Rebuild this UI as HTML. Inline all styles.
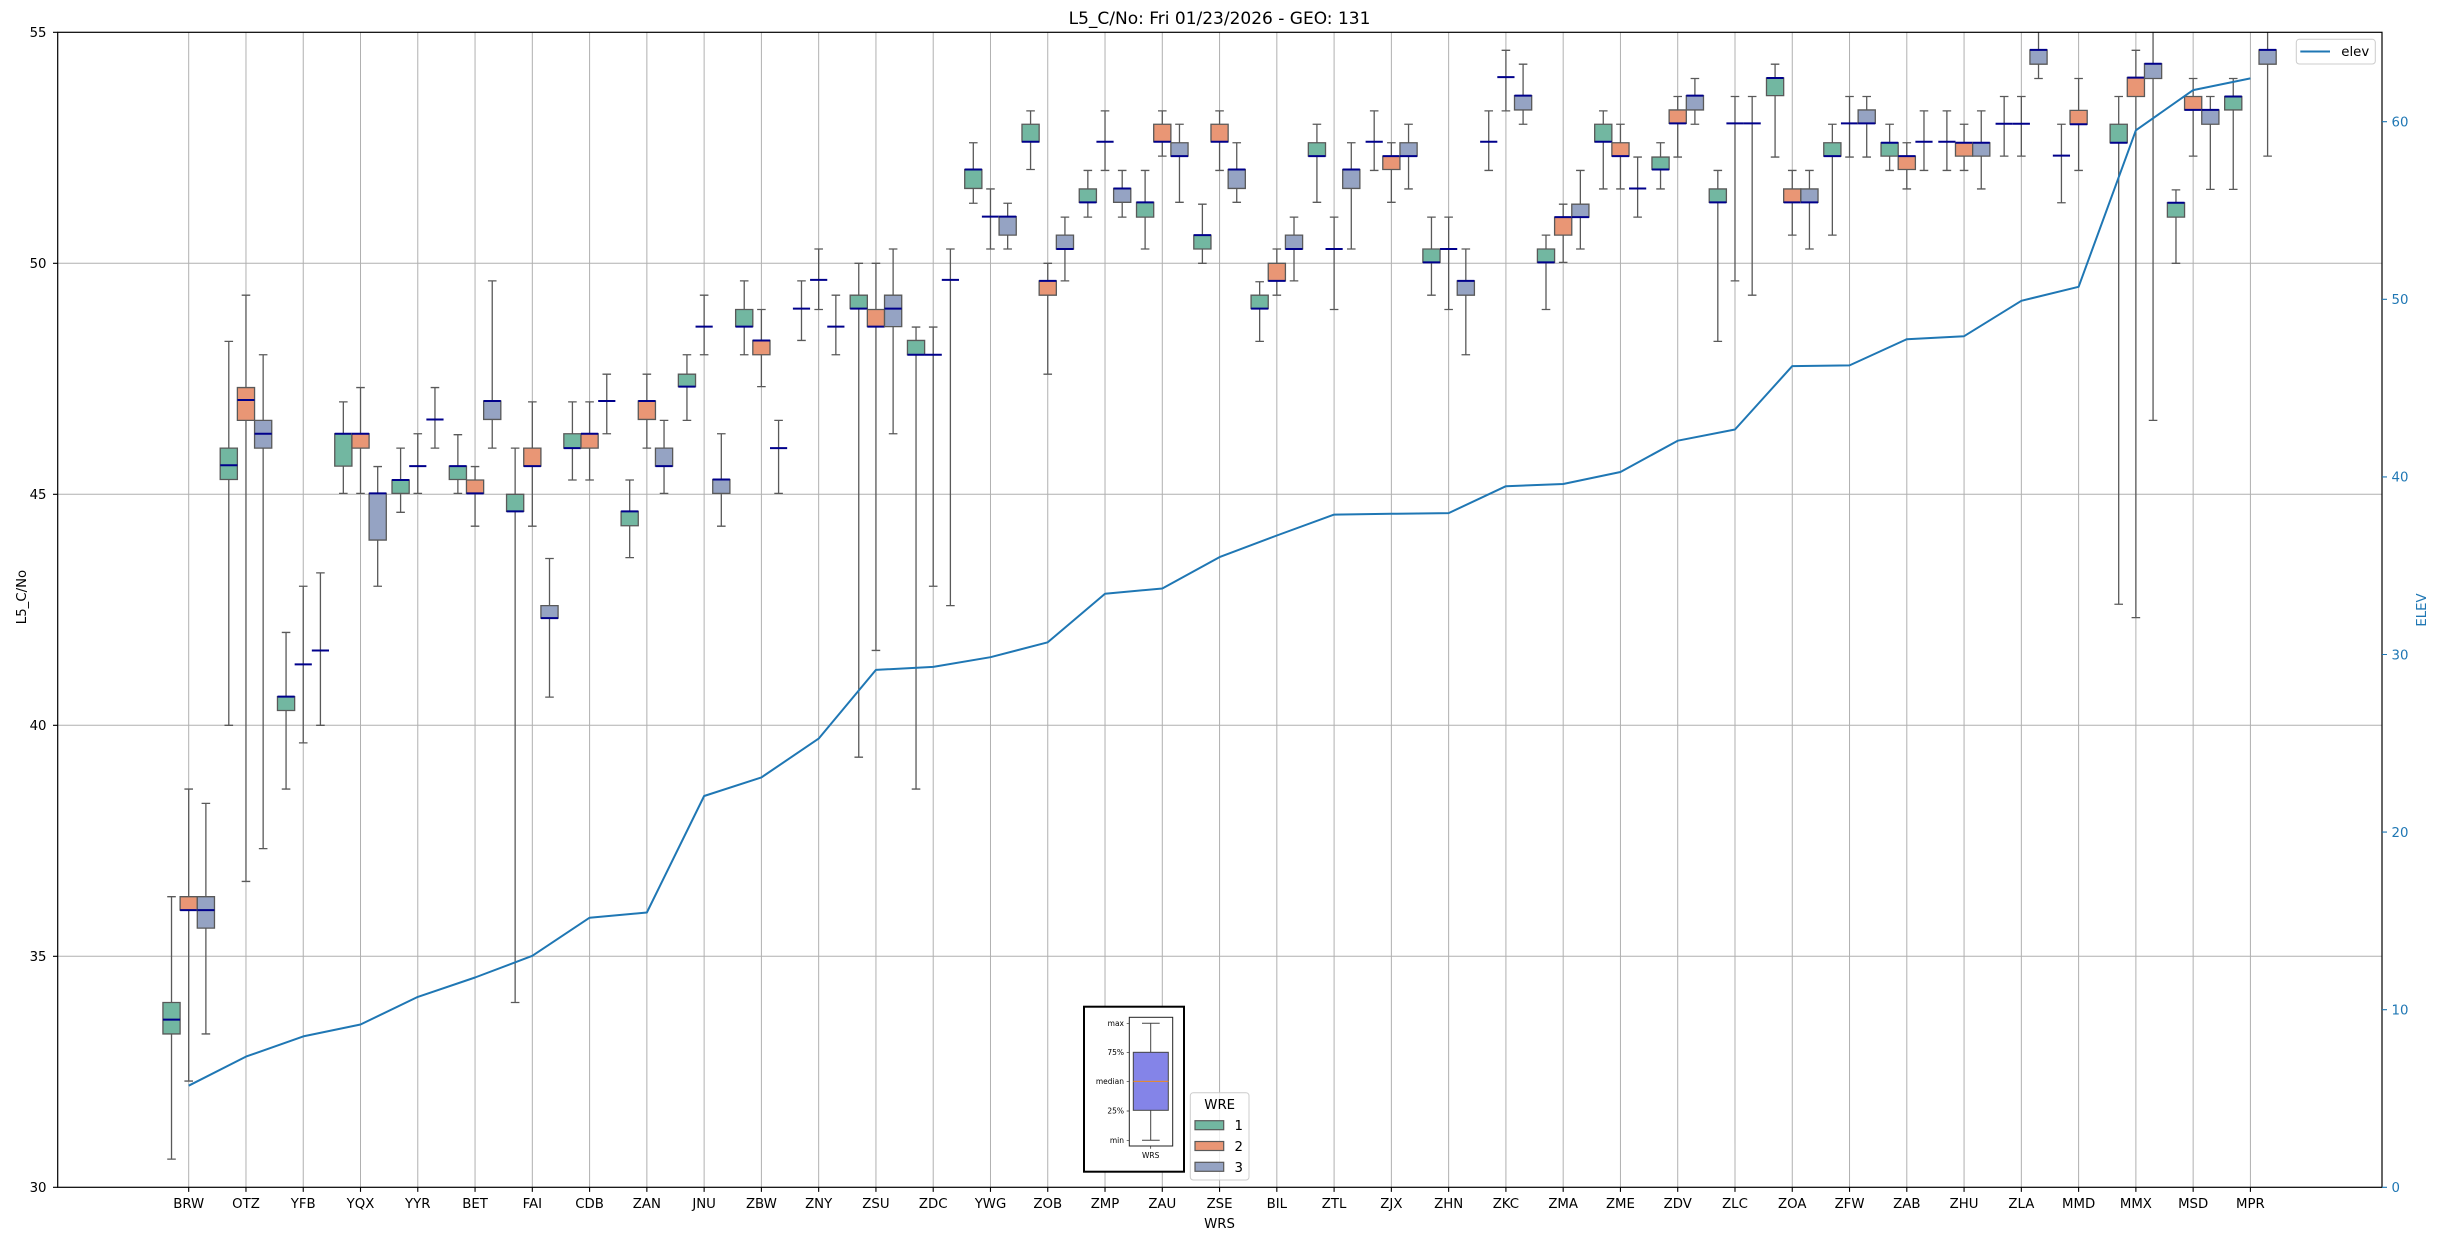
<!DOCTYPE html>
<html><head><meta charset="utf-8"><style>
html,body{margin:0;padding:0;background:#fff}
svg text{font-family:"DejaVu Sans","Liberation Sans",sans-serif}
.d *{vector-effect:non-scaling-stroke}
.w{stroke:#595959;stroke-width:1.3;fill:none}
.g{fill:#72b7a1;stroke:#595959;stroke-width:1.3}
.o{fill:#e99675;stroke:#595959;stroke-width:1.3}
.b{fill:#95a3c3;stroke:#595959;stroke-width:1.3}
.m{stroke:#00008b;stroke-width:2;fill:none}
</style></head><body>
<svg width="2438" height="1240" viewBox="0 0 2438 1240" xmlns="http://www.w3.org/2000/svg">
<defs><clipPath id="ax" clipPathUnits="userSpaceOnUse"><rect x="57.7" y="32.3" width="2324.3" height="1155"/></clipPath></defs>
<rect x="0" y="0" width="2438" height="1240" fill="#fff"/>
<text x="1219.5" y="24" font-size="17" text-anchor="middle" fill="#000">L5_C/No: Fri 01/23/2026 - GEO: 131</text>

<g clip-path="url(#ax)">
<g class="d" transform="matrix(57.27 0 0 -46.2 188.7 2573.3)">
<path d="M0 30V55M1 30V55M2 30V55M3 30V55M4 30V55M5 30V55M6 30V55M7 30V55M8 30V55M9 30V55M10 30V55M11 30V55M12 30V55M13 30V55M14 30V55M15 30V55M16 30V55M17 30V55M18 30V55M19 30V55M20 30V55M21 30V55M22 30V55M23 30V55M24 30V55M25 30V55M26 30V55M27 30V55M28 30V55M29 30V55M30 30V55M31 30V55M32 30V55M33 30V55M34 30V55M35 30V55M36 30V55" stroke="#b0b0b0" stroke-width="1" fill="none"/>
<path d="M-2.3 35H38.3M-2.3 40H38.3M-2.3 45H38.3M-2.3 50H38.3" stroke="#b0b0b0" stroke-width="1" fill="none"/>

<!-- 0 BRW -->
<g transform="translate(-.3 0)"><path class="w" d="M0 30.61V36.29M-.075 30.61H.075M-.075 36.29H.075"/><rect class="g" x="-.15" y="33.32" width=".3" height=".68"/><path class="m" d="M-.15 33.63H.15"/></g>
<g transform="translate(0 0)"><path class="w" d="M0 32.3V38.62M-.075 32.3H.075M-.075 38.62H.075"/><rect class="o" x="-.15" y="36" width=".3" height=".29"/><path class="m" d="M-.15 36H.15"/></g>
<g transform="translate(.3 0)"><path class="w" d="M0 33.32V38.31M-.075 33.32H.075M-.075 38.31H.075"/><rect class="b" x="-.15" y="35.61" width=".3" height=".68"/><path class="m" d="M-.15 36H.15"/></g>
<!-- 1 OTZ -->
<g transform="translate(.7 0)"><path class="w" d="M0 40V48.31M-.075 40H.075M-.075 48.31H.075"/><rect class="g" x="-.15" y="45.32" width=".3" height=".68"/><path class="m" d="M-.15 45.63H.15"/></g>
<g transform="translate(1 0)"><path class="w" d="M0 36.62V49.31M-.075 36.62H.075M-.075 49.31H.075"/><rect class="o" x="-.15" y="46.6" width=".3" height=".71"/><path class="m" d="M-.15 47.04H.15"/></g>
<g transform="translate(1.3 0)"><path class="w" d="M0 37.33V48.02M-.075 37.33H.075M-.075 48.02H.075"/><rect class="b" x="-.15" y="46" width=".3" height=".6"/><path class="m" d="M-.15 46.31H.15"/></g>
<!-- 2 YFB -->
<g transform="translate(1.7 0)"><path class="w" d="M0 38.62V42.01M-.075 38.62H.075M-.075 42.01H.075"/><rect class="g" x="-.15" y="40.32" width=".3" height=".3"/><path class="m" d="M-.15 40.62H.15"/></g>
<g transform="translate(2 0)"><path class="w" d="M0 39.62V43.01M-.075 39.62H.075M-.075 43.01H.075"/><path class="m" d="M-.15 41.32H.15"/></g>
<g transform="translate(2.3 0)"><path class="w" d="M0 40V43.3M-.075 40H.075M-.075 43.3H.075"/><path class="m" d="M-.15 41.62H.15"/></g>
<!-- 3 YQX -->
<g transform="translate(2.7 0)"><path class="w" d="M0 45.02V47M-.075 45.02H.075M-.075 47H.075"/><rect class="g" x="-.15" y="45.61" width=".3" height=".7"/><path class="m" d="M-.15 46.31H.15"/></g>
<g transform="translate(3 0)"><path class="w" d="M0 45.02V47.31M-.075 45.02H.075M-.075 47.31H.075"/><rect class="o" x="-.15" y="46" width=".3" height=".31"/><path class="m" d="M-.15 46.31H.15"/></g>
<g transform="translate(3.3 0)"><path class="w" d="M0 43.01V45.6M-.075 43.01H.075M-.075 45.6H.075"/><rect class="b" x="-.15" y="44.01" width=".3" height="1.01"/><path class="m" d="M-.15 45.02H.15"/></g>
<!-- 4 YYR -->
<g transform="translate(3.7 0)"><path class="w" d="M0 44.61V46M-.075 44.61H.075M-.075 46H.075"/><rect class="g" x="-.15" y="45.02" width=".3" height=".29"/><path class="m" d="M-.15 45.31H.15"/></g>
<g transform="translate(4 0)"><path class="w" d="M0 45.02V46.31M-.075 45.02H.075M-.075 46.31H.075"/><path class="m" d="M-.15 45.61H.15"/></g>
<g transform="translate(4.3 0)"><path class="w" d="M0 46V47.31M-.075 46H.075M-.075 47.31H.075"/><path class="m" d="M-.15 46.62H.15"/></g>
<!-- 5 BET -->
<g transform="translate(4.7 0)"><path class="w" d="M0 45.02V46.29M-.075 45.02H.075M-.075 46.29H.075"/><rect class="g" x="-.15" y="45.32" width=".3" height=".29"/><path class="m" d="M-.15 45.61H.15"/></g>
<g transform="translate(5 0)"><path class="w" d="M0 44.31V45.6M-.075 44.31H.075M-.075 45.6H.075"/><rect class="o" x="-.15" y="45.02" width=".3" height=".29"/><path class="m" d="M-.15 45.02H.15"/></g>
<g transform="translate(5.3 0)"><path class="w" d="M0 46V49.62M-.075 46H.075M-.075 49.62H.075"/><rect class="b" x="-.15" y="46.62" width=".3" height=".4"/><path class="m" d="M-.15 47.02H.15"/></g>
<!-- 6 FAI -->
<g transform="translate(5.7 0)"><path class="w" d="M0 34V46M-.075 34H.075M-.075 46H.075"/><rect class="g" x="-.15" y="44.63" width=".3" height=".37"/><path class="m" d="M-.15 44.63H.15"/></g>
<g transform="translate(6 0)"><path class="w" d="M0 44.31V47M-.075 44.31H.075M-.075 47H.075"/><rect class="o" x="-.15" y="45.61" width=".3" height=".39"/><path class="m" d="M-.15 45.61H.15"/></g>
<g transform="translate(6.3 0)"><path class="w" d="M0 40.61V43.61M-.075 40.61H.075M-.075 43.61H.075"/><rect class="b" x="-.15" y="42.32" width=".3" height=".27"/><path class="m" d="M-.15 42.32H.15"/></g>
<!-- 7 CDB -->
<g transform="translate(6.7 0)"><path class="w" d="M0 45.31V47M-.075 45.31H.075M-.075 47H.075"/><rect class="g" x="-.15" y="46" width=".3" height=".31"/><path class="m" d="M-.15 46H.15"/></g>
<g transform="translate(7 0)"><path class="w" d="M0 45.31V47M-.075 45.31H.075M-.075 47H.075"/><rect class="o" x="-.15" y="46" width=".3" height=".31"/><path class="m" d="M-.15 46.31H.15"/></g>
<g transform="translate(7.3 0)"><path class="w" d="M0 46.31V47.6M-.075 46.31H.075M-.075 47.6H.075"/><path class="m" d="M-.15 47.02H.15"/></g>
<!-- 8 ZAN -->
<g transform="translate(7.7 0)"><path class="w" d="M0 43.63V45.31M-.075 43.63H.075M-.075 45.31H.075"/><rect class="g" x="-.15" y="44.32" width=".3" height=".31"/><path class="m" d="M-.15 44.63H.15"/></g>
<g transform="translate(8 0)"><path class="w" d="M0 46V47.6M-.075 46H.075M-.075 47.6H.075"/><rect class="o" x="-.15" y="46.62" width=".3" height=".4"/><path class="m" d="M-.15 47.02H.15"/></g>
<g transform="translate(8.3 0)"><path class="w" d="M0 45.02V46.6M-.075 45.02H.075M-.075 46.6H.075"/><rect class="b" x="-.15" y="45.61" width=".3" height=".39"/><path class="m" d="M-.15 45.61H.15"/></g>
<!-- 9 JNU -->
<g transform="translate(8.7 0)"><path class="w" d="M0 46.6V48.02M-.075 46.6H.075M-.075 48.02H.075"/><rect class="g" x="-.15" y="47.33" width=".3" height=".27"/><path class="m" d="M-.15 47.33H.15"/></g>
<g transform="translate(9 0)"><path class="w" d="M0 48.02V49.31M-.075 48.02H.075M-.075 49.31H.075"/><path class="m" d="M-.15 48.63H.15"/></g>
<g transform="translate(9.3 0)"><path class="w" d="M0 44.31V46.31M-.075 44.31H.075M-.075 46.31H.075"/><rect class="b" x="-.15" y="45.02" width=".3" height=".3"/><path class="m" d="M-.15 45.32H.15"/></g>
<!-- 10 ZBW -->
<g transform="translate(9.7 0)"><path class="w" d="M0 48.02V49.62M-.075 48.02H.075M-.075 49.62H.075"/><rect class="g" x="-.15" y="48.63" width=".3" height=".37"/><path class="m" d="M-.15 48.63H.15"/></g>
<g transform="translate(10 0)"><path class="w" d="M0 47.33V49M-.075 47.33H.075M-.075 49H.075"/><rect class="o" x="-.15" y="48.02" width=".3" height=".31"/><path class="m" d="M-.15 48.33H.15"/></g>
<g transform="translate(10.3 0)"><path class="w" d="M0 45.02V46.6M-.075 45.02H.075M-.075 46.6H.075"/><path class="m" d="M-.15 46H.15"/></g>
<!-- 11 ZNY -->
<g transform="translate(10.7 0)"><path class="w" d="M0 48.33V49.62M-.075 48.33H.075M-.075 49.62H.075"/><path class="m" d="M-.15 49.02H.15"/></g>
<g transform="translate(11 0)"><path class="w" d="M0 49V50.31M-.075 49H.075M-.075 50.31H.075"/><path class="m" d="M-.15 49.64H.15"/></g>
<g transform="translate(11.3 0)"><path class="w" d="M0 48.02V49.31M-.075 48.02H.075M-.075 49.31H.075"/><path class="m" d="M-.15 48.63H.15"/></g>
<!-- 12 ZSU -->
<g transform="translate(11.7 0)"><path class="w" d="M0 39.31V50M-.075 39.31H.075M-.075 50H.075"/><rect class="g" x="-.15" y="49.02" width=".3" height=".29"/><path class="m" d="M-.15 49.02H.15"/></g>
<g transform="translate(12 0)"><path class="w" d="M0 41.62V50M-.075 41.62H.075M-.075 50H.075"/><rect class="o" x="-.15" y="48.63" width=".3" height=".37"/><path class="m" d="M-.15 48.63H.15"/></g>
<g transform="translate(12.3 0)"><path class="w" d="M0 46.31V50.31M-.075 46.31H.075M-.075 50.31H.075"/><rect class="b" x="-.15" y="48.63" width=".3" height=".68"/><path class="m" d="M-.15 49.02H.15"/></g>
<!-- 13 ZDC -->
<g transform="translate(12.7 0)"><path class="w" d="M0 38.62V48.62M-.075 38.62H.075M-.075 48.62H.075"/><rect class="g" x="-.15" y="48.02" width=".3" height=".31"/><path class="m" d="M-.15 48.02H.15"/></g>
<g transform="translate(13 0)"><path class="w" d="M0 43.01V48.62M-.075 43.01H.075M-.075 48.62H.075"/><path class="m" d="M-.15 48.02H.15"/></g>
<g transform="translate(13.3 0)"><path class="w" d="M0 42.59V50.31M-.075 42.59H.075M-.075 50.31H.075"/><path class="m" d="M-.15 49.64H.15"/></g>
<!-- 14 YWG -->
<g transform="translate(13.7 0)"><path class="w" d="M0 51.3V52.61M-.075 51.3H.075M-.075 52.61H.075"/><rect class="g" x="-.15" y="51.62" width=".3" height=".41"/><path class="m" d="M-.15 52.03H.15"/></g>
<g transform="translate(14 0)"><path class="w" d="M0 50.31V51.61M-.075 50.31H.075M-.075 51.61H.075"/><path class="m" d="M-.15 51.01H.15"/></g>
<g transform="translate(14.3 0)"><path class="w" d="M0 50.31V51.3M-.075 50.31H.075M-.075 51.3H.075"/><rect class="b" x="-.15" y="50.61" width=".3" height=".4"/><path class="m" d="M-.15 51.01H.15"/></g>
<!-- 15 ZOB -->
<g transform="translate(14.7 0)"><path class="w" d="M0 52.03V53.3M-.075 52.03H.075M-.075 53.3H.075"/><rect class="g" x="-.15" y="52.63" width=".3" height=".38"/><path class="m" d="M-.15 52.63H.15"/></g>
<g transform="translate(15 0)"><path class="w" d="M0 47.6V50M-.075 47.6H.075M-.075 50H.075"/><rect class="o" x="-.15" y="49.31" width=".3" height=".31"/><path class="m" d="M-.15 49.62H.15"/></g>
<g transform="translate(15.3 0)"><path class="w" d="M0 49.62V51M-.075 49.62H.075M-.075 51H.075"/><rect class="b" x="-.15" y="50.31" width=".3" height=".3"/><path class="m" d="M-.15 50.31H.15"/></g>
<!-- 16 ZMP -->
<g transform="translate(15.7 0)"><path class="w" d="M0 51V52.01M-.075 51H.075M-.075 52.01H.075"/><rect class="g" x="-.15" y="51.32" width=".3" height=".29"/><path class="m" d="M-.15 51.32H.15"/></g>
<g transform="translate(16 0)"><path class="w" d="M0 52.01V53.3M-.075 52.01H.075M-.075 53.3H.075"/><path class="m" d="M-.15 52.63H.15"/></g>
<g transform="translate(16.3 0)"><path class="w" d="M0 51V52.01M-.075 51H.075M-.075 52.01H.075"/><rect class="b" x="-.15" y="51.32" width=".3" height=".3"/><path class="m" d="M-.15 51.62H.15"/></g>
<!-- 17 ZAU -->
<g transform="translate(16.7 0)"><path class="w" d="M0 50.31V52.01M-.075 50.31H.075M-.075 52.01H.075"/><rect class="g" x="-.15" y="51" width=".3" height=".32"/><path class="m" d="M-.15 51.32H.15"/></g>
<g transform="translate(17 0)"><path class="w" d="M0 52.32V53.3M-.075 52.32H.075M-.075 53.3H.075"/><rect class="o" x="-.15" y="52.63" width=".3" height=".38"/><path class="m" d="M-.15 52.63H.15"/></g>
<g transform="translate(17.3 0)"><path class="w" d="M0 51.32V53.01M-.075 51.32H.075M-.075 53.01H.075"/><rect class="b" x="-.15" y="52.32" width=".3" height=".29"/><path class="m" d="M-.15 52.32H.15"/></g>
<!-- 18 ZSE -->
<g transform="translate(17.7 0)"><path class="w" d="M0 50V51.28M-.075 50H.075M-.075 51.28H.075"/><rect class="g" x="-.15" y="50.31" width=".3" height=".3"/><path class="m" d="M-.15 50.61H.15"/></g>
<g transform="translate(18 0)"><path class="w" d="M0 52.01V53.3M-.075 52.01H.075M-.075 53.3H.075"/><rect class="o" x="-.15" y="52.63" width=".3" height=".38"/><path class="m" d="M-.15 52.63H.15"/></g>
<g transform="translate(18.3 0)"><path class="w" d="M0 51.32V52.61M-.075 51.32H.075M-.075 52.61H.075"/><rect class="b" x="-.15" y="51.62" width=".3" height=".41"/><path class="m" d="M-.15 52.03H.15"/></g>
<!-- 19 BIL -->
<g transform="translate(18.7 0)"><path class="w" d="M0 48.31V49.6M-.075 48.31H.075M-.075 49.6H.075"/><rect class="g" x="-.15" y="49.02" width=".3" height=".29"/><path class="m" d="M-.15 49.02H.15"/></g>
<g transform="translate(19 0)"><path class="w" d="M0 49.31V50.31M-.075 49.31H.075M-.075 50.31H.075"/><rect class="o" x="-.15" y="49.62" width=".3" height=".38"/><path class="m" d="M-.15 49.62H.15"/></g>
<g transform="translate(19.3 0)"><path class="w" d="M0 49.62V51M-.075 49.62H.075M-.075 51H.075"/><rect class="b" x="-.15" y="50.31" width=".3" height=".3"/><path class="m" d="M-.15 50.31H.15"/></g>
<!-- 20 ZTL -->
<g transform="translate(19.7 0)"><path class="w" d="M0 51.32V53.01M-.075 51.32H.075M-.075 53.01H.075"/><rect class="g" x="-.15" y="52.32" width=".3" height=".29"/><path class="m" d="M-.15 52.32H.15"/></g>
<g transform="translate(20 0)"><path class="w" d="M0 49V51M-.075 49H.075M-.075 51H.075"/><path class="m" d="M-.15 50.31H.15"/></g>
<g transform="translate(20.3 0)"><path class="w" d="M0 50.31V52.61M-.075 50.31H.075M-.075 52.61H.075"/><rect class="b" x="-.15" y="51.62" width=".3" height=".41"/><path class="m" d="M-.15 52.03H.15"/></g>
<!-- 21 ZJX -->
<g transform="translate(20.7 0)"><path class="w" d="M0 52.01V53.3M-.075 52.01H.075M-.075 53.3H.075"/><path class="m" d="M-.15 52.63H.15"/></g>
<g transform="translate(21 0)"><path class="w" d="M0 51.32V52.61M-.075 51.32H.075M-.075 52.61H.075"/><rect class="o" x="-.15" y="52.03" width=".3" height=".29"/><path class="m" d="M-.15 52.32H.15"/></g>
<g transform="translate(21.3 0)"><path class="w" d="M0 51.61V53.01M-.075 51.61H.075M-.075 53.01H.075"/><rect class="b" x="-.15" y="52.32" width=".3" height=".29"/><path class="m" d="M-.15 52.32H.15"/></g>
<!-- 22 ZHN -->
<g transform="translate(21.7 0)"><path class="w" d="M0 49.31V51M-.075 49.31H.075M-.075 51H.075"/><rect class="g" x="-.15" y="50.02" width=".3" height=".29"/><path class="m" d="M-.15 50.02H.15"/></g>
<g transform="translate(22 0)"><path class="w" d="M0 49V51M-.075 49H.075M-.075 51H.075"/><path class="m" d="M-.15 50.31H.15"/></g>
<g transform="translate(22.3 0)"><path class="w" d="M0 48.02V50.31M-.075 48.02H.075M-.075 50.31H.075"/><rect class="b" x="-.15" y="49.31" width=".3" height=".31"/><path class="m" d="M-.15 49.62H.15"/></g>
<!-- 23 ZKC -->
<g transform="translate(22.7 0)"><path class="w" d="M0 52.01V53.3M-.075 52.01H.075M-.075 53.3H.075"/><path class="m" d="M-.15 52.63H.15"/></g>
<g transform="translate(23 0)"><path class="w" d="M0 53.3V54.61M-.075 53.3H.075M-.075 54.61H.075"/><path class="m" d="M-.15 54.03H.15"/></g>
<g transform="translate(23.3 0)"><path class="w" d="M0 53.01V54.31M-.075 53.01H.075M-.075 54.31H.075"/><rect class="b" x="-.15" y="53.32" width=".3" height=".31"/><path class="m" d="M-.15 53.63H.15"/></g>
<!-- 24 ZMA -->
<g transform="translate(23.7 0)"><path class="w" d="M0 49V50.61M-.075 49H.075M-.075 50.61H.075"/><rect class="g" x="-.15" y="50.02" width=".3" height=".29"/><path class="m" d="M-.15 50.02H.15"/></g>
<g transform="translate(24 0)"><path class="w" d="M0 50.02V51.28M-.075 50.02H.075M-.075 51.28H.075"/><rect class="o" x="-.15" y="50.61" width=".3" height=".39"/><path class="m" d="M-.15 51H.15"/></g>
<g transform="translate(24.3 0)"><path class="w" d="M0 50.31V52.01M-.075 50.31H.075M-.075 52.01H.075"/><rect class="b" x="-.15" y="51" width=".3" height=".28"/><path class="m" d="M-.15 51H.15"/></g>
<!-- 25 ZME -->
<g transform="translate(24.7 0)"><path class="w" d="M0 51.61V53.3M-.075 51.61H.075M-.075 53.3H.075"/><rect class="g" x="-.15" y="52.63" width=".3" height=".38"/><path class="m" d="M-.15 52.63H.15"/></g>
<g transform="translate(25 0)"><path class="w" d="M0 51.61V53.01M-.075 51.61H.075M-.075 53.01H.075"/><rect class="o" x="-.15" y="52.32" width=".3" height=".29"/><path class="m" d="M-.15 52.32H.15"/></g>
<g transform="translate(25.3 0)"><path class="w" d="M0 51V52.3M-.075 51H.075M-.075 52.3H.075"/><path class="m" d="M-.15 51.62H.15"/></g>
<!-- 26 ZDV -->
<g transform="translate(25.7 0)"><path class="w" d="M0 51.61V52.61M-.075 51.61H.075M-.075 52.61H.075"/><rect class="g" x="-.15" y="52.03" width=".3" height=".27"/><path class="m" d="M-.15 52.03H.15"/></g>
<g transform="translate(26 0)"><path class="w" d="M0 52.3V53.61M-.075 52.3H.075M-.075 53.61H.075"/><rect class="o" x="-.15" y="53.03" width=".3" height=".29"/><path class="m" d="M-.15 53.03H.15"/></g>
<g transform="translate(26.3 0)"><path class="w" d="M0 53.01V54M-.075 53.01H.075M-.075 54H.075"/><rect class="b" x="-.15" y="53.32" width=".3" height=".31"/><path class="m" d="M-.15 53.63H.15"/></g>
<!-- 27 ZLC -->
<g transform="translate(26.7 0)"><path class="w" d="M0 48.31V52.01M-.075 48.31H.075M-.075 52.01H.075"/><rect class="g" x="-.15" y="51.32" width=".3" height=".29"/><path class="m" d="M-.15 51.32H.15"/></g>
<g transform="translate(27 0)"><path class="w" d="M0 49.62V53.61M-.075 49.62H.075M-.075 53.61H.075"/><path class="m" d="M-.15 53.03H.15"/></g>
<g transform="translate(27.3 0)"><path class="w" d="M0 49.31V53.61M-.075 49.31H.075M-.075 53.61H.075"/><path class="m" d="M-.15 53.03H.15"/></g>
<!-- 28 ZOA -->
<g transform="translate(27.7 0)"><path class="w" d="M0 52.3V54.31M-.075 52.3H.075M-.075 54.31H.075"/><rect class="g" x="-.15" y="53.63" width=".3" height=".38"/><path class="m" d="M-.15 54.01H.15"/></g>
<g transform="translate(28 0)"><path class="w" d="M0 50.61V52.01M-.075 50.61H.075M-.075 52.01H.075"/><rect class="o" x="-.15" y="51.32" width=".3" height=".29"/><path class="m" d="M-.15 51.32H.15"/></g>
<g transform="translate(28.3 0)"><path class="w" d="M0 50.31V52.01M-.075 50.31H.075M-.075 52.01H.075"/><rect class="b" x="-.15" y="51.32" width=".3" height=".29"/><path class="m" d="M-.15 51.32H.15"/></g>
<!-- 29 ZFW -->
<g transform="translate(28.7 0)"><path class="w" d="M0 50.61V53.01M-.075 50.61H.075M-.075 53.01H.075"/><rect class="g" x="-.15" y="52.32" width=".3" height=".29"/><path class="m" d="M-.15 52.32H.15"/></g>
<g transform="translate(29 0)"><path class="w" d="M0 52.3V53.61M-.075 52.3H.075M-.075 53.61H.075"/><path class="m" d="M-.15 53.03H.15"/></g>
<g transform="translate(29.3 0)"><path class="w" d="M0 52.3V53.61M-.075 52.3H.075M-.075 53.61H.075"/><rect class="b" x="-.15" y="53.03" width=".3" height=".29"/><path class="m" d="M-.15 53.03H.15"/></g>
<!-- 30 ZAB -->
<g transform="translate(29.7 0)"><path class="w" d="M0 52.01V53.01M-.075 52.01H.075M-.075 53.01H.075"/><rect class="g" x="-.15" y="52.32" width=".3" height=".29"/><path class="m" d="M-.15 52.61H.15"/></g>
<g transform="translate(30 0)"><path class="w" d="M0 51.61V52.61M-.075 51.61H.075M-.075 52.61H.075"/><rect class="o" x="-.15" y="52.03" width=".3" height=".29"/><path class="m" d="M-.15 52.32H.15"/></g>
<g transform="translate(30.3 0)"><path class="w" d="M0 52.01V53.3M-.075 52.01H.075M-.075 53.3H.075"/><path class="m" d="M-.15 52.63H.15"/></g>
<!-- 31 ZHU -->
<g transform="translate(30.7 0)"><path class="w" d="M0 52.01V53.3M-.075 52.01H.075M-.075 53.3H.075"/><path class="m" d="M-.15 52.63H.15"/></g>
<g transform="translate(31 0)"><path class="w" d="M0 52.01V53.01M-.075 52.01H.075M-.075 53.01H.075"/><rect class="o" x="-.15" y="52.32" width=".3" height=".29"/><path class="m" d="M-.15 52.61H.15"/></g>
<g transform="translate(31.3 0)"><path class="w" d="M0 51.61V53.3M-.075 51.61H.075M-.075 53.3H.075"/><rect class="b" x="-.15" y="52.32" width=".3" height=".29"/><path class="m" d="M-.15 52.61H.15"/></g>
<!-- 32 ZLA -->
<g transform="translate(31.7 0)"><path class="w" d="M0 52.32V53.61M-.075 52.32H.075M-.075 53.61H.075"/><path class="m" d="M-.15 53.02H.15"/></g>
<g transform="translate(32 0)"><path class="w" d="M0 52.32V53.61M-.075 52.32H.075M-.075 53.61H.075"/><path class="m" d="M-.15 53.02H.15"/></g>
<g transform="translate(32.3 0)"><path class="w" d="M0 54V55.5M-.075 54H.075M-.075 55.5H.075"/><rect class="b" x="-.15" y="54.31" width=".3" height=".31"/><path class="m" d="M-.15 54.62H.15"/></g>
<!-- 33 MMD -->
<g transform="translate(32.7 0)"><path class="w" d="M0 51.31V53.01M-.075 51.31H.075M-.075 53.01H.075"/><path class="m" d="M-.15 52.33H.15"/></g>
<g transform="translate(33 0)"><path class="w" d="M0 52.01V54M-.075 52.01H.075M-.075 54H.075"/><rect class="o" x="-.15" y="53.01" width=".3" height=".3"/><path class="m" d="M-.15 53.01H.15"/></g>
<!-- 34 MMX -->
<g transform="translate(33.7 0)"><path class="w" d="M0 42.62V53.61M-.075 42.62H.075M-.075 53.61H.075"/><rect class="g" x="-.15" y="52.61" width=".3" height=".4"/><path class="m" d="M-.15 52.61H.15"/></g>
<g transform="translate(34 0)"><path class="w" d="M0 42.33V54.61M-.075 42.33H.075M-.075 54.61H.075"/><rect class="o" x="-.15" y="53.61" width=".3" height=".41"/><path class="m" d="M-.15 54.02H.15"/></g>
<g transform="translate(34.3 0)"><path class="w" d="M0 46.6V55.5M-.075 46.6H.075M-.075 55.5H.075"/><rect class="b" x="-.15" y="54" width=".3" height=".32"/><path class="m" d="M-.15 54.32H.15"/></g>
<!-- 35 MSD -->
<g transform="translate(34.7 0)"><path class="w" d="M0 50V51.59M-.075 50H.075M-.075 51.59H.075"/><rect class="g" x="-.15" y="51" width=".3" height=".31"/><path class="m" d="M-.15 51.31H.15"/></g>
<g transform="translate(35 0)"><path class="w" d="M0 52.32V54M-.075 52.32H.075M-.075 54H.075"/><rect class="o" x="-.15" y="53.32" width=".3" height=".29"/><path class="m" d="M-.15 53.32H.15"/></g>
<g transform="translate(35.3 0)"><path class="w" d="M0 51.6V53.61M-.075 51.6H.075M-.075 53.61H.075"/><rect class="b" x="-.15" y="53.01" width=".3" height=".31"/><path class="m" d="M-.15 53.32H.15"/></g>
<!-- 36 MPR -->
<g transform="translate(35.7 0)"><path class="w" d="M0 51.6V54M-.075 51.6H.075M-.075 54H.075"/><rect class="g" x="-.15" y="53.32" width=".3" height=".29"/><path class="m" d="M-.15 53.61H.15"/></g>
<g transform="translate(36.3 0)"><path class="w" d="M0 52.32V55.5M-.075 52.32H.075M-.075 55.5H.075"/><rect class="b" x="-.15" y="54.31" width=".3" height=".31"/><path class="m" d="M-.15 54.62H.15"/></g>
</g>

<!-- elev line -->
<polyline fill="none" stroke="#1f77b4" stroke-width="2" stroke-linejoin="round" points="188.7,1085.7 245.97,1056.6 303.24,1036.4 360.51,1024.5 417.78,996.9 475.05,977.5 532.32,955.8 589.59,917.7 646.86,912.5 704.13,796 761.4,777.4 818.67,738.6 875.94,669.9 933.21,666.9 990.48,657.2 1047.75,642.3 1105.02,593.7 1162.29,588.5 1219.56,557.1 1276.83,535.5 1334.1,514.6 1391.37,513.8 1448.64,513.1 1505.91,486.2 1563.18,484 1620.45,472 1677.72,440.7 1734.99,429.5 1792.26,366.1 1849.53,365.4 1906.8,339.2 1964.07,336.2 2021.34,300.8 2078.61,286.8 2135.88,130.3 2193.15,90.1 2250.42,78.4"/>
</g>

<!-- spines -->
<rect x="57.7" y="32.3" width="2324.3" height="1155" fill="none" stroke="#000" stroke-width="1.2"/>

<!-- bottom ticks -->
<g class="d" transform="matrix(57.27 0 0 -46.2 188.7 2573.3)">
<path d="M0 30V29.9M1 30V29.9M2 30V29.9M3 30V29.9M4 30V29.9M5 30V29.9M6 30V29.9M7 30V29.9M8 30V29.9M9 30V29.9M10 30V29.9M11 30V29.9M12 30V29.9M13 30V29.9M14 30V29.9M15 30V29.9M16 30V29.9M17 30V29.9M18 30V29.9M19 30V29.9M20 30V29.9M21 30V29.9M22 30V29.9M23 30V29.9M24 30V29.9M25 30V29.9M26 30V29.9M27 30V29.9M28 30V29.9M29 30V29.9M30 30V29.9M31 30V29.9M32 30V29.9M33 30V29.9M34 30V29.9M35 30V29.9M36 30V29.9" stroke="#000" stroke-width="1.1" fill="none"/>
</g>
<g font-size="13.3" text-anchor="middle" fill="#000">
<text x="188.7" y="1208">BRW</text><text x="245.97" y="1208">OTZ</text><text x="303.24" y="1208">YFB</text><text x="360.51" y="1208">YQX</text><text x="417.78" y="1208">YYR</text><text x="475.05" y="1208">BET</text><text x="532.32" y="1208">FAI</text><text x="589.59" y="1208">CDB</text><text x="646.86" y="1208">ZAN</text><text x="704.13" y="1208">JNU</text><text x="761.4" y="1208">ZBW</text><text x="818.67" y="1208">ZNY</text><text x="875.94" y="1208">ZSU</text><text x="933.21" y="1208">ZDC</text><text x="990.48" y="1208">YWG</text><text x="1047.75" y="1208">ZOB</text><text x="1105.02" y="1208">ZMP</text><text x="1162.29" y="1208">ZAU</text><text x="1219.56" y="1208">ZSE</text><text x="1276.83" y="1208">BIL</text><text x="1334.1" y="1208">ZTL</text><text x="1391.37" y="1208">ZJX</text><text x="1448.64" y="1208">ZHN</text><text x="1505.91" y="1208">ZKC</text><text x="1563.18" y="1208">ZMA</text><text x="1620.45" y="1208">ZME</text><text x="1677.72" y="1208">ZDV</text><text x="1734.99" y="1208">ZLC</text><text x="1792.26" y="1208">ZOA</text><text x="1849.53" y="1208">ZFW</text><text x="1906.8" y="1208">ZAB</text><text x="1964.07" y="1208">ZHU</text><text x="2021.34" y="1208">ZLA</text><text x="2078.61" y="1208">MMD</text><text x="2135.88" y="1208">MMX</text><text x="2193.15" y="1208">MSD</text><text x="2250.42" y="1208">MPR</text>
</g>
<text x="1219.5" y="1228" font-size="13.3" text-anchor="middle" fill="#000">WRS</text>

<!-- left ticks -->
<path d="M53 1187.3H57.7M53 956.3H57.7M53 725.3H57.7M53 494.3H57.7M53 263.3H57.7M53 32.3H57.7" stroke="#000" stroke-width="1.1"/>
<g font-size="13.3" text-anchor="end" fill="#000">
<text x="46.5" y="1192.1">30</text><text x="46.5" y="961.1">35</text><text x="46.5" y="730.1">40</text><text x="46.5" y="499.1">45</text><text x="46.5" y="268.1">50</text><text x="46.5" y="37.1">55</text>
</g>
<text transform="translate(26 597) rotate(-90)" font-size="13.3" text-anchor="middle" fill="#000">L5_C/No</text>

<!-- right ticks -->
<path d="M2382 1187.3H2387M2382 1009.7H2387M2382 832.1H2387M2382 654.5H2387M2382 476.9H2387M2382 299.3H2387M2382 121.7H2387" stroke="#1f77b4" stroke-width="1.1"/>
<g font-size="13.3" fill="#1f77b4">
<text x="2391.5" y="1192.1">0</text><text x="2391.5" y="1014.5">10</text><text x="2391.5" y="836.9">20</text><text x="2391.5" y="659.3">30</text><text x="2391.5" y="481.7">40</text><text x="2391.5" y="304.1">50</text><text x="2391.5" y="126.5">60</text>
</g>
<text transform="translate(2426 610) rotate(-90)" font-size="13.3" text-anchor="middle" fill="#1f77b4">ELEV</text>

<!-- WRE legend -->
<rect x="1190.3" y="1092.7" width="58.7" height="87.3" rx="3" fill="#fff" fill-opacity="0.8" stroke="#cccccc" stroke-width="1"/>
<text x="1219.7" y="1109" font-size="13.3" text-anchor="middle" fill="#000">WRE</text>
<rect x="1195" y="1120.7" width="28.7" height="9" fill="#72b7a1" stroke="#595959" stroke-width="1.2"/>
<rect x="1195" y="1141.5" width="28.7" height="9" fill="#e99675" stroke="#595959" stroke-width="1.2"/>
<rect x="1195" y="1162.3" width="28.7" height="9" fill="#95a3c3" stroke="#595959" stroke-width="1.2"/>
<g font-size="13.3" fill="#000"><text x="1234.5" y="1130">1</text><text x="1234.5" y="1151">2</text><text x="1234.5" y="1172">3</text></g>

<!-- elev legend -->
<rect x="2296.3" y="39.3" width="79" height="24.7" rx="3" fill="#fff" fill-opacity="0.8" stroke="#cccccc" stroke-width="1"/>
<path d="M2300.3 51.5H2330" stroke="#1f77b4" stroke-width="2"/>
<text x="2341.3" y="56" font-size="13.3" fill="#000">elev</text>

<!-- inset explanation box -->
<rect x="1084" y="1006.7" width="100" height="165" fill="#fff" stroke="#000" stroke-width="2"/>
<rect x="1129.3" y="1017.3" width="43.4" height="128.7" fill="#fff" stroke="#222" stroke-width="1"/>
<path d="M1150.7 1023.3V1052.3M1150.7 1110.3V1140.3M1142 1023.3H1159.7M1142 1140.3H1159.7" stroke="#444" stroke-width="1" fill="none"/>
<rect x="1133.3" y="1052.3" width="35" height="58" fill="#8484e8" stroke="#444" stroke-width="1"/>
<path d="M1133.3 1081.3H1168.3" stroke="#ff8c00" stroke-width="0.8"/>
<path d="M1126.7 1023.3H1129.3M1126.7 1052.3H1129.3M1126.7 1081.3H1129.3M1126.7 1111H1129.3M1126.7 1140.3H1129.3M1150.7 1146V1148.7" stroke="#222" stroke-width="0.7"/>
<g font-size="7.5" text-anchor="end" fill="#000">
<text x="1124" y="1025.8">max</text><text x="1124" y="1054.8">75%</text><text x="1124" y="1083.8">median</text><text x="1124" y="1113.5">25%</text><text x="1124" y="1142.8">min</text>
</g>
<text x="1150.7" y="1158" font-size="7.5" text-anchor="middle" fill="#000">WRS</text>
</svg>
</body></html>
